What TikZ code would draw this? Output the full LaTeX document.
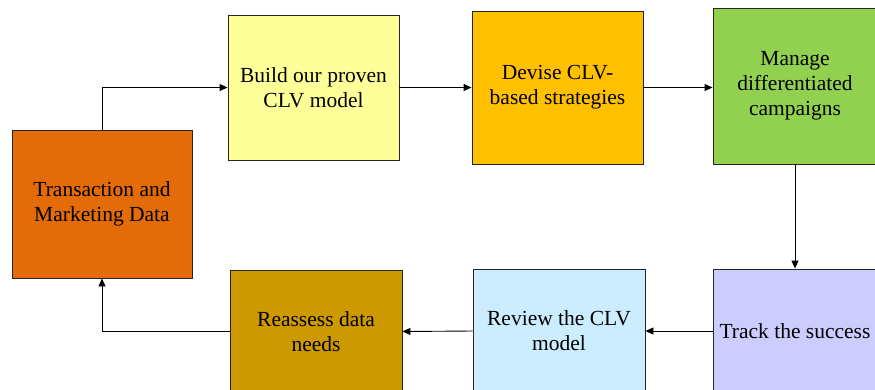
\documentclass[tikz,border=0pt]{standalone}
\usepackage{fontspec}
\setmainfont{Liberation Serif}
\usetikzlibrary{arrows.meta}
\definecolor{cOrange}{HTML}{E36C09}
\definecolor{cYellow}{HTML}{FFFF99}
\definecolor{cGold}{HTML}{FFC000}
\definecolor{cGreen}{HTML}{92D050}
\definecolor{cLavender}{HTML}{CCCCFF}
\definecolor{cSky}{HTML}{CCECFF}
\definecolor{cOchre}{HTML}{CC9900}
\tikzset{
  stepbox/.style={draw=black!85, line width=0.9pt, align=center, inner sep=2pt,
    font=\fontsize{21.5}{25}\selectfont, text=black},
  flow/.style={draw=black, line width=0.9pt, -{Triangle[length=8pt,width=7pt]}}
}
\begin{document}
\begin{tikzpicture}[x=1pt,y=-1pt]
\useasboundingbox (0,0) rectangle (875,389);
\clip (0,0) rectangle (875,389);
\fill[white] (0,0) rectangle (875,389);
\node[stepbox, fill=cOrange, minimum width=180, minimum height=148] (data) at (102,204) {Transaction and\\Marketing Data};
\node[stepbox, fill=cYellow, minimum width=171, minimum height=145] (build) at (313.5,87.5) {Build our proven\\CLV model};
\node[stepbox, fill=cGold, minimum width=171, minimum height=153] (devise) at (557.5,87.5) {Devise CLV-\\based strategies};
\node[stepbox, fill=cGreen, minimum width=164, minimum height=156] (manage) at (795,86) {Manage\\differentiated\\campaigns};
\node[stepbox, fill=cLavender, minimum width=164, minimum height=124] (track) at (795,331) {Track the success};
\node[stepbox, fill=cSky, minimum width=172, minimum height=124] (review) at (559,331) {Review the CLV\\model};
\node[stepbox, fill=cOchre, minimum width=172, minimum height=123] (reassess) at (316,331.5) {Reassess data\\needs};

\draw[flow] (data.north) |- (build.west);
\draw[flow] (build.east) -- (devise.west);
\draw[flow] (devise.east) -- (devise.east -| manage.west);
\draw[flow] (manage.south) -- (track.north);
\draw[flow] (track.west) -- (review.east);
\draw[flow] (review.west) -- (reassess.east);
\draw[flow] (reassess.west) -| (data.south);
\end{tikzpicture}
\end{document}
